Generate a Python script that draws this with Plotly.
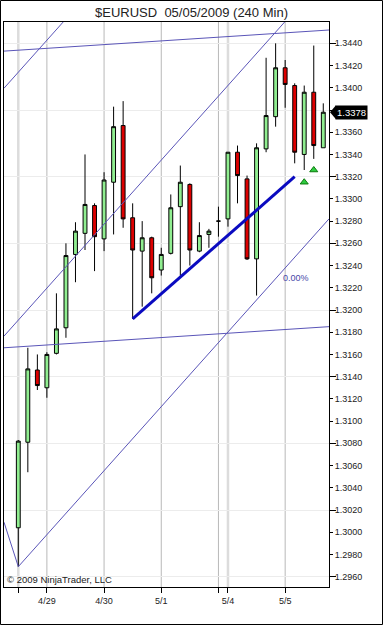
import plotly.graph_objects as go

# ---------------- data ----------------
bar_index = list(range(33))
opens  = [1.3004, 1.3081, 1.3146, 1.3130, 1.3161, 1.3184, 1.3250, 1.3269, 1.3294, 1.3264,
          1.3315, 1.3366, 1.3283, 1.3253, 1.3265, 1.3236, 1.3251, 1.3293, 1.3313, 1.3253,
          1.3268, 1.3280, 1.3282, 1.3342, 1.3318, 1.3246, 1.3345, 1.3374, 1.3418, 1.3402,
          1.3340, 1.3396, 1.3346]
highs  = [1.3083, 1.3166, 1.3160, 1.3162, 1.3215, 1.3260, 1.3279, 1.3340, 1.3296, 1.3324,
          1.3383, 1.3388, 1.3296, 1.3280, 1.3266, 1.3256, 1.3304, 1.3330, 1.3314, 1.3279,
          1.3273, 1.3293, 1.3342, 1.3348, 1.3321, 1.3350, 1.3427, 1.3440, 1.3425, 1.3404,
          1.3402, 1.3438, 1.3386]
lows   = [1.2969, 1.3054, 1.3128, 1.3121, 1.3160, 1.3175, 1.3225, 1.3254, 1.3235, 1.3253,
          1.3268, 1.3274, 1.3192, 1.3203, 1.3215, 1.3231, 1.3250, 1.3231, 1.3240, 1.3252,
          1.3256, 1.3266, 1.3275, 1.3296, 1.3245, 1.3213, 1.3342, 1.3365, 1.3382, 1.3332,
          1.3326, 1.3336, 1.3346]
closes = [1.3082, 1.3147, 1.3132, 1.3160, 1.3183, 1.3249, 1.3271, 1.3295, 1.3266, 1.3317,
          1.3365, 1.3282, 1.3254, 1.3265, 1.3229, 1.3250, 1.3292, 1.3315, 1.3254, 1.3267,
          1.3271, 1.3280, 1.3342, 1.3321, 1.3246, 1.3346, 1.3375, 1.3418, 1.3403, 1.3342,
          1.3396, 1.3348, 1.3378]

tick_index  = [0, 3, 9, 15, 21, 22, 28]
tick_labels = ["", "4/29", "4/30", "5/1", "", "5/4", "5/5"]
session_start_index = [0, 22]

# price axis labels (1.3380 is hidden behind the last-price marker)
price_ticks = [1.2960, 1.2980, 1.3000, 1.3020, 1.3040, 1.3060, 1.3080, 1.3100, 1.3120,
               1.3140, 1.3160, 1.3180, 1.3200, 1.3220, 1.3240, 1.3260, 1.3280, 1.3300,
               1.3320, 1.3340, 1.3360, 1.3400, 1.3420, 1.3440]

signal_index = [30, 31]
signal_price = [1.3315, 1.3326]

# drawn trend lines (index, price)
trend_thick_x = [12, 29]
trend_thick_y = [1.3192, 1.3320]
channel_top_x = [-1.5, 32.6]
channel_top_y = [1.3433, 1.3452]
channel_bot_x = [-1.5, 32.6]
channel_bot_y = [1.3166, 1.3185]
fork_a_x = [-1.5, 5.0]
fork_a_y = [1.33996, 1.3462]
fork_b_x = [-1.5, 29.0]
fork_b_y = [1.31765, 1.34693]
fork_c_x = [0.0, 32.6]
fork_c_y = [1.2969, 1.3282]
fork_v_x = [-1.5, 0.0]
fork_v_y = [1.3009, 1.2969]
level_label_x = 29.1
level_label_y = 1.3229
level_label_text = "0.00%"

y_min, y_max = 1.29507, 1.34592
x_min, x_max = -1.5, 32.6

# ---------------- figure ----------------
W, H = 383, 625
ML, MR, MT, MB = 4, 54, 22, 38
PW, PH = W - ML - MR, H - MT - MB
FONT = "Liberation Sans, Arial, sans-serif"
THIN = "#5a55b8"

fig = go.Figure()

for xs, ys in [(channel_top_x, channel_top_y), (channel_bot_x, channel_bot_y),
               (fork_a_x, fork_a_y), (fork_b_x, fork_b_y),
               (fork_c_x, fork_c_y), (fork_v_x, fork_v_y)]:
    fig.add_trace(go.Scatter(x=xs, y=ys, mode="lines",
                             line=dict(color=THIN, width=1),
                             showlegend=False, hoverinfo="skip"))

fig.add_trace(go.Candlestick(
    x=bar_index, open=opens, high=highs, low=lows, close=closes,
    increasing=dict(fillcolor="#90ee90", line=dict(color="black", width=1)),
    decreasing=dict(fillcolor="#dd0000", line=dict(color="black", width=1)),
    whiskerwidth=0, showlegend=False))

fig.add_trace(go.Scatter(x=trend_thick_x, y=trend_thick_y, mode="lines",
                         line=dict(color="#0a0ac0", width=3),
                         showlegend=False, hoverinfo="skip"))

fig.add_trace(go.Scatter(x=signal_index, y=signal_price, mode="markers",
                         marker=dict(symbol="triangle-up", size=7, color="#2ecc40",
                                     line=dict(color="#0b7a0b", width=1)),
                         showlegend=False, hoverinfo="skip"))

# invisible trace to hold the grid axis
fig.add_trace(go.Scatter(x=[None], y=[None], yaxis="y2", showlegend=False))

# vertical session/day lines
for xi in tick_index:
    if xi in session_start_index:
        col, wd = "#dcdcdc", 2.5
    else:
        col, wd = "#b8b8b8", 1
    fig.add_shape(type="line", xref="x", yref="paper", x0=xi, x1=xi, y0=0, y1=1,
                  line=dict(color=col, width=wd), layer="below")

# outer border
fig.add_shape(type="rect", xref="paper", yref="paper",
              x0=(0.5 - ML) / PW, x1=(W - 0.5 - ML) / PW,
              y0=(PH + MT - (H - 0.5)) / PH, y1=(PH + MT - 0.5) / PH,
              line=dict(color="black", width=1), fillcolor="rgba(0,0,0,0)")

# current price marker arrow
last = closes[-1]
ppu = PH / (y_max - y_min)
fig.add_shape(type="path", xref="paper", yref="y",
              path=f"M {(330 - ML) / PW},{last} L {(336 - ML) / PW},{last + 7 / ppu} "
                   f"L {(336 - ML) / PW},{last - 7 / ppu} Z",
              fillcolor="black", line=dict(width=0))

fig.add_annotation(x=1, xref="paper", y=last, yref="y", xanchor="left", yanchor="middle",
                   xshift=6, text=f"{last:.4f}", showarrow=False, bgcolor="black",
                   borderpad=1, font=dict(family=FONT, size=9.5, color="white"))

fig.add_annotation(x=level_label_x, y=level_label_y, text=level_label_text, showarrow=False,
                   font=dict(family=FONT, size=9, color="#4848a8"))

fig.add_annotation(x=0, xref="paper", y=0, yref="paper", xanchor="left", yanchor="bottom",
                   xshift=1, text="© 2009 NinjaTrader, LLC", showarrow=False,
                   font=dict(family=FONT, size=9.5, color="#222222"))

fig.update_layout(
    width=W, height=H,
    margin=dict(l=ML, r=MR, t=MT, b=MB),
    paper_bgcolor="white", plot_bgcolor="white",
    boxgap=0.42,
    title=dict(text="$EURUSD\u00a0\u00a005/05/2009 (240 Min)", x=0.5, xref="container",
               xanchor="center", y=1 - 12 / H, yanchor="middle",
               font=dict(family=FONT, size=13, color="#222222")),
    xaxis=dict(range=[x_min, x_max], tickmode="array", tickvals=tick_index,
               ticktext=tick_labels, ticks="outside", ticklen=5, tickcolor="black",
               showgrid=False, zeroline=False, showline=True, linecolor="black",
               linewidth=1, mirror=True, rangeslider=dict(visible=False),
               tickfont=dict(family=FONT, size=9, color="#222222")),
    yaxis=dict(range=[y_min, y_max], side="right", tickmode="array",
               tickvals=price_ticks, ticktext=[f"{v:.4f}" for v in price_ticks],
               ticks="outside", ticklen=3, tickcolor="black",
               showgrid=False, zeroline=False, showline=True, linecolor="black",
               linewidth=1, mirror=True,
               tickfont=dict(family=FONT, size=9, color="#222222")),
    yaxis2=dict(range=[y_min, y_max], overlaying="y", side="right", tick0=1.296,
                dtick=0.006, ticks="outside", ticklen=6, tickcolor="black",
                showticklabels=False, showgrid=True, gridcolor="#ececec",
                zeroline=False, showline=False),
    font=dict(family=FONT),
)

fig.write_html("out.html")
